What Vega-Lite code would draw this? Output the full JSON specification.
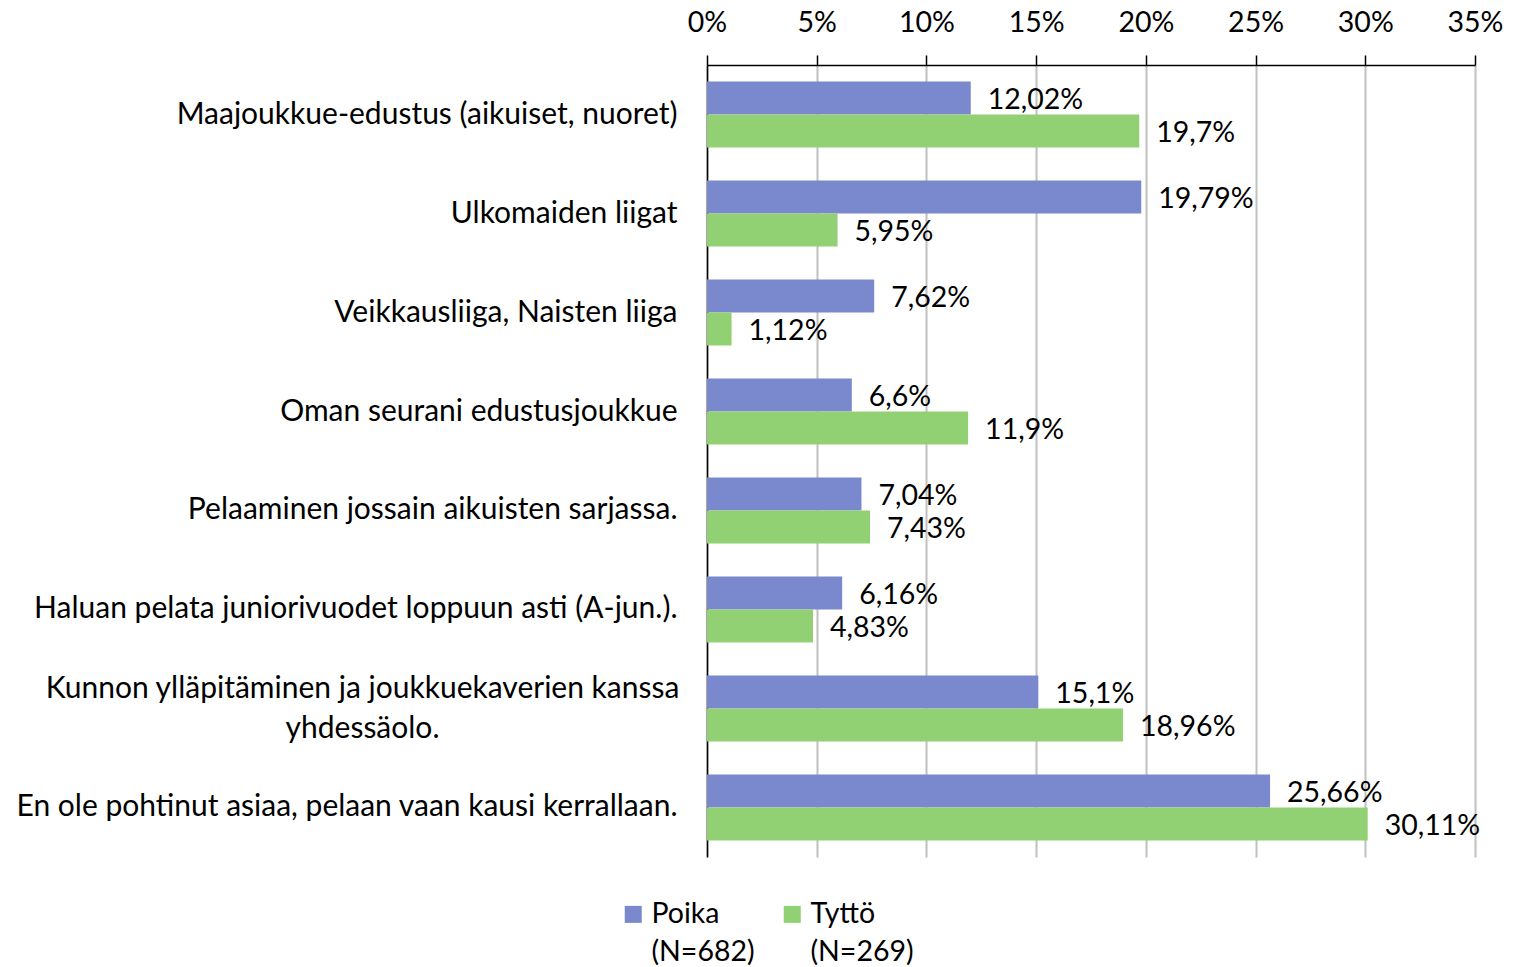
{
  "$schema": "https://vega.github.io/schema/vega-lite/v6.json",
  "autosize": "none",
  "width": 768,
  "height": 792,
  "padding": {"left": 707, "top": 65, "right": 38, "bottom": 110},
  "config": {
    "locale": {"number": {"decimal": ",", "thousands": " ", "grouping": [3], "currency": ["", " €"]}},
    "view": {"stroke": null},
    "font": "Lato"
  },
  "data": {
    "values": [
      {"kategoria": "Maajoukkue-edustus (aikuiset, nuoret)", "ryhma": "Poika (N=682)", "osuus": 0.1202},
      {"kategoria": "Maajoukkue-edustus (aikuiset, nuoret)", "ryhma": "Tyttö (N=269)", "osuus": 0.197},
      {"kategoria": "Ulkomaiden liigat", "ryhma": "Poika (N=682)", "osuus": 0.1979},
      {"kategoria": "Ulkomaiden liigat", "ryhma": "Tyttö (N=269)", "osuus": 0.0595},
      {"kategoria": "Veikkausliiga, Naisten liiga", "ryhma": "Poika (N=682)", "osuus": 0.0762},
      {"kategoria": "Veikkausliiga, Naisten liiga", "ryhma": "Tyttö (N=269)", "osuus": 0.0112},
      {"kategoria": "Oman seurani edustusjoukkue", "ryhma": "Poika (N=682)", "osuus": 0.066},
      {"kategoria": "Oman seurani edustusjoukkue", "ryhma": "Tyttö (N=269)", "osuus": 0.119},
      {"kategoria": "Pelaaminen jossain aikuisten sarjassa.", "ryhma": "Poika (N=682)", "osuus": 0.0704},
      {"kategoria": "Pelaaminen jossain aikuisten sarjassa.", "ryhma": "Tyttö (N=269)", "osuus": 0.0743},
      {"kategoria": "Haluan pelata juniorivuodet loppuun asti (A-jun.).", "ryhma": "Poika (N=682)", "osuus": 0.0616},
      {"kategoria": "Haluan pelata juniorivuodet loppuun asti (A-jun.).", "ryhma": "Tyttö (N=269)", "osuus": 0.0483},
      {"kategoria": "Kunnon ylläpitäminen ja joukkuekaverien kanssa yhdessäolo.", "ryhma": "Poika (N=682)", "osuus": 0.151},
      {"kategoria": "Kunnon ylläpitäminen ja joukkuekaverien kanssa yhdessäolo.", "ryhma": "Tyttö (N=269)", "osuus": 0.1896},
      {"kategoria": "En ole pohtinut asiaa, pelaan vaan kausi kerrallaan.", "ryhma": "Poika (N=682)", "osuus": 0.2566},
      {"kategoria": "En ole pohtinut asiaa, pelaan vaan kausi kerrallaan.", "ryhma": "Tyttö (N=269)", "osuus": 0.3011}
    ]
  },
  "encoding": {
    "y": {
      "field": "kategoria",
      "type": "nominal",
      "sort": null,
      "scale": {"paddingInner": 0.3333, "paddingOuter": 0.1667},
      "axis": {
        "title": null,
        "ticks": false,
        "domain": true,
        "domainColor": "#000000",
        "domainWidth": 1.5,
        "labelFontSize": 30,
        "labelColor": "#000000",
        "labelLimit": 0,
        "labelLineHeight": 40,
        "labelExpr": "datum.label == 'Kunnon ylläpitäminen ja joukkuekaverien kanssa yhdessäolo.' ? ['Kunnon ylläpitäminen ja joukkuekaverien kanssa', 'yhdessäolo.'] : datum.label",
        "labelAlign": {"condition": {"test": "datum.value == 'Kunnon ylläpitäminen ja joukkuekaverien kanssa yhdessäolo.'", "value": "center"}, "value": "right"},
        "labelPadding": {"condition": {"test": "datum.value == 'Kunnon ylläpitäminen ja joukkuekaverien kanssa yhdessäolo.'", "value": 345}, "value": 30},
        "labelOffset": {"condition": {"test": "datum.value == 'Kunnon ylläpitäminen ja joukkuekaverien kanssa yhdessäolo.'", "value": -19}, "value": 0}
      }
    },
    "yOffset": {"field": "ryhma", "type": "nominal", "sort": null},
    "x": {
      "field": "osuus",
      "type": "quantitative",
      "scale": {"domain": [0, 0.35], "nice": false},
      "axis": {
        "orient": "top",
        "title": null,
        "values": [0, 0.05, 0.1, 0.15, 0.2, 0.25, 0.3, 0.35],
        "format": "~%",
        "grid": true,
        "gridColor": "#C0C0C0",
        "gridWidth": 2,
        "domainColor": "#000000",
        "domainWidth": 1.5,
        "tickColor": "#000000",
        "tickWidth": 1.5,
        "tickSize": 10,
        "labelFontSize": 28.5,
        "labelColor": "#000000",
        "labelPadding": 18,
        "labelFlush": false
      }
    }
  },
  "layer": [
    {
      "mark": {"type": "bar"},
      "encoding": {
        "color": {
          "field": "ryhma",
          "type": "nominal",
          "sort": null,
          "scale": {"domain": ["Poika (N=682)", "Tyttö (N=269)"], "range": ["#7A89CE", "#92D173"]},
          "legend": {
            "orient": "none",
            "legendX": -88,
            "legendY": 835,
            "direction": "horizontal",
            "title": null,
            "padding": 0,
            "symbolType": "square",
            "symbolSize": 289,
            "symbolStrokeWidth": 0,
            "labelFontSize": 28.5,
            "labelColor": "#000000",
            "labelLimit": 0,
            "labelOffset": 4,
            "columnPadding": 23,
            "labelExpr": "split(datum.label, ' ')",
            "encode": {"labels": {"update": {"lineHeight": {"value": 38}}}}
          }
        }
      }
    },
    {
      "mark": {"type": "text", "align": "left", "baseline": "middle", "dx": 17, "dy": 2, "fontSize": 28.5, "color": "#000000"},
      "encoding": {
        "text": {"field": "osuus", "type": "quantitative", "format": ".2~%"}
      }
    }
  ]
}
